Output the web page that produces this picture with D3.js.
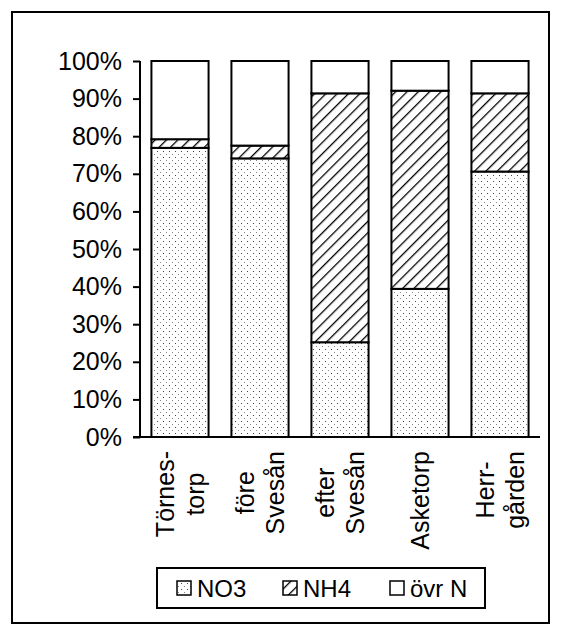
<!DOCTYPE html>
<html><head><meta charset="utf-8">
<script src="https://cdn.jsdelivr.net/npm/d3@7"></script>
<style>body{margin:0;background:#fff}text{font-family:"Liberation Sans",Arial,sans-serif;fill:#000}</style>
</head><body><div id="c"></div>
<script>
// Share of nitrogen fractions per sampling site
const sites = [["Törnes-","torp"],["före","Svesån"],["efter","Svesån"],["Asketorp"],["Herr-","gården"]];
const seriesNames = ["NO3","NH4","övr N"];
const no3  = [76.9, 74.1, 25.2, 39.4, 70.6];
const nh4  = [2.3, 3.4, 66.2, 52.7, 20.8];
const ovrN = [20.8, 22.5, 8.6, 7.9, 8.6];
const yTicks = [0,10,20,30,40,50,60,70,80,90,100];

const W=562,H=637;
const svg=d3.select("#c").append("svg").attr("width",W).attr("height",H);
svg.append("rect").attr("width",W).attr("height",H).attr("fill","#fff");

const defs=svg.append("defs");
// dotted fill for NO3
const pd=defs.append("pattern").attr("id","dots").attr("patternUnits","userSpaceOnUse")
  .attr("width",6).attr("height",6);
pd.append("rect").attr("width",6).attr("height",6).attr("fill","#fff");
pd.append("rect").attr("x",1).attr("y",1).attr("width",1).attr("height",1).attr("fill","#444");
pd.append("rect").attr("x",4).attr("y",4).attr("width",1).attr("height",1).attr("fill","#888");
// diagonal hatching for NH4
const ph=defs.append("pattern").attr("id","hatch").attr("patternUnits","userSpaceOnUse")
  .attr("width",8).attr("height",8).attr("patternTransform","rotate(45)");
ph.append("rect").attr("width",8).attr("height",8).attr("fill","#fff");
ph.append("line").attr("x1",0).attr("y1",0).attr("x2",0).attr("y2",8)
  .attr("stroke","#000").attr("stroke-width",2.6);
const fills={"NO3":"url(#dots)","NH4":"url(#hatch)","övr N":"#fff"};

// outer frame
svg.append("rect").attr("x",12).attr("y",12).attr("width",537).attr("height",611)
  .attr("fill","none").attr("stroke","#000").attr("stroke-width",2);

const x=d3.scaleBand().domain(d3.range(sites.length)).range([140,540]).paddingInner(0.2857).paddingOuter(0.1428);
const y=d3.scaleLinear().domain([0,100]).range([437,61]);

const rows=sites.map((s,i)=>({i,"NO3":no3[i],"NH4":nh4[i],"övr N":ovrN[i]}));
const stack=d3.stack().keys(seriesNames)(rows);

const g=svg.append("g");
stack.forEach(layer=>{
  g.selectAll(null).data(layer).join("rect")
    .attr("x",d=>x(d.data.i)).attr("width",x.bandwidth())
    .attr("y",d=>y(d[1])).attr("height",d=>y(d[0])-y(d[1]))
    .attr("fill",fills[layer.key]).attr("stroke","#000").attr("stroke-width",2);
});

// y axis
const ya=svg.append("g").attr("transform","translate(140,0)")
  .call(d3.axisLeft(y).tickValues(yTicks).tickFormat(d=>d+"%").tickSize(7).tickPadding(11));
ya.select(".domain").attr("stroke","#000").attr("stroke-width",2).attr("d","M0,"+y(100)+"V"+y(0));
ya.selectAll(".tick line").attr("stroke","#000").attr("stroke-width",2);
ya.selectAll(".tick text").attr("font-size",25).style("font-family","'Liberation Sans',Arial,sans-serif");

// baseline
svg.append("line").attr("x1",133).attr("x2",540).attr("y1",y(0)).attr("y2",y(0))
  .attr("stroke","#000").attr("stroke-width",2);

// rotated category labels
const fs=25;
sites.forEach((lines,i)=>{
  const cx=x(i)+x.bandwidth()/2;
  const t=svg.append("text").attr("transform",`translate(${cx},451) rotate(-90)`)
    .attr("font-size",fs);
  const n=lines.length;
  // width of the longest line, so lines are centred inside a block anchored at the axis
  const tmp=svg.append("text").attr("font-size",fs);
  let maxW=0;
  lines.forEach(l=>{tmp.text(l);maxW=Math.max(maxW,tmp.node().getComputedTextLength());});
  tmp.remove();
  lines.forEach((l,k)=>{
    t.append("tspan").attr("x",-maxW/2).attr("text-anchor","middle")
      .attr("y",(k-(n-1)/2)*30+9).text(l);
  });
});

// legend
const lg=svg.append("g");
lg.append("rect").attr("x",157).attr("y",568).attr("width",328).attr("height",40)
  .attr("fill","#fff").attr("stroke","#000").attr("stroke-width",2);
const lx=[177,283,390];
seriesNames.forEach((s,i)=>{
  lg.append("rect").attr("x",lx[i]).attr("y",581).attr("width",14).attr("height",14)
    .attr("fill",fills[s]).attr("stroke","#000").attr("stroke-width",1.5);
  lg.append("text").attr("x",lx[i]+20).attr("y",597).attr("font-size",24).text(s);
});
</script></body></html>
